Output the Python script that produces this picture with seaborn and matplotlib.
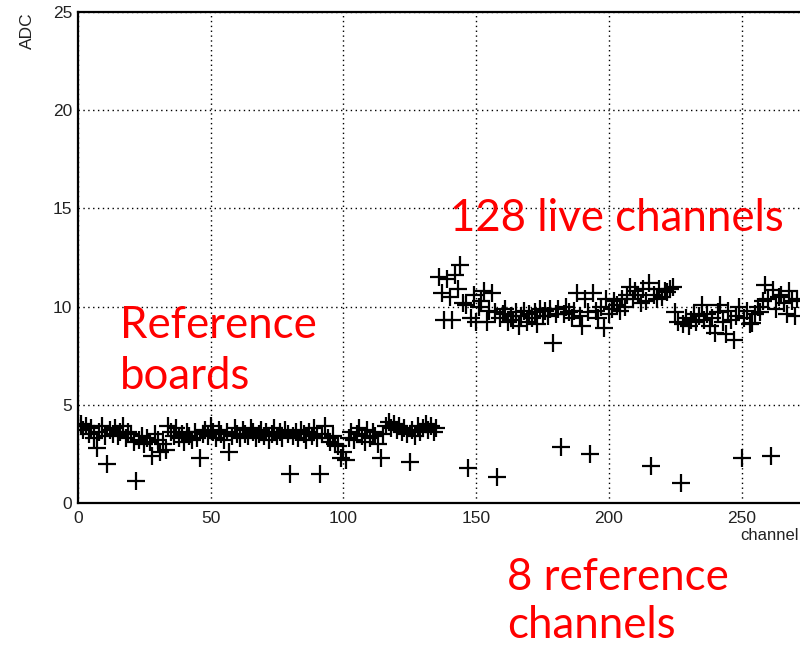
import numpy as np
import pandas as pd
import matplotlib
matplotlib.use("Agg")
import matplotlib.pyplot as plt
from matplotlib.ticker import MultipleLocator
import seaborn as sns

# Pedestal noise per channel: two boards of 136 channels each
board1_adc = [
    3.9, 4.0, 3.7, 3.9, 3.5, 3.8, 3.3, 2.8, 3.6, 3.9,
    3.4, 2.0, 3.7, 3.5, 3.8, 3.4, 3.6, 3.9, 3.3, 3.6,
    3.5, 3.1, 1.1, 3.2, 3.4, 3.0, 3.3, 3.1, 2.4, 3.5,
    3.2, 2.6, 3.0, 2.7, 3.9, 3.6, 3.4, 3.8, 3.3, 3.5,
    3.1, 3.6, 3.4, 3.2, 3.6, 3.3, 2.3, 3.5, 3.7, 3.4,
    3.9, 3.6, 3.3, 3.7, 3.5, 3.2, 3.6, 2.6, 3.4, 3.8,
    3.5, 3.3, 3.7, 3.5, 3.4, 3.8, 3.6, 3.3, 3.5, 3.7,
    3.4, 3.6, 3.2, 3.5, 3.8, 3.4, 3.6, 3.3, 3.7, 3.5,
    1.5, 3.4, 3.6, 3.3, 3.7, 3.5, 3.2, 3.6, 3.4, 3.8,
    3.3, 1.5, 3.5, 3.9, 3.3, 3.1, 3.4, 3.0, 2.9, 2.3,
    2.6, 2.2, 3.3, 3.6, 3.2, 3.5, 3.8, 3.4, 3.1, 3.7,
    3.3, 3.6, 3.4, 3.0, 2.3, 3.5, 3.9, 4.1, 3.8, 4.0,
    3.7, 3.9, 3.6, 3.8, 3.5, 2.1, 3.7, 3.4, 3.9, 3.6,
    3.8, 4.0, 3.7, 3.9, 3.6, 3.8,
]
board2_adc = [
    11.5, 10.7, 9.3, 11.4, 10.5, 9.3, 11.6, 10.9, 12.1, 10.2,
    10.1, 1.8, 9.4, 10.6, 9.2, 10.0, 10.3, 10.8, 9.2, 9.8,
    10.7, 9.7, 1.3, 9.4, 9.6, 9.9, 9.2, 9.5, 9.3, 9.7,
    9.0, 9.5, 9.8, 9.2, 9.6, 9.4, 9.7, 9.1, 9.9, 9.5,
    9.8, 9.5, 9.9, 8.15, 9.6, 9.9, 2.85, 9.6, 10.0, 9.7,
    9.4, 9.8, 10.7, 9.5, 9.0, 10.4, 9.7, 2.5, 10.7, 9.8,
    9.4, 10.0, 8.9, 10.4, 9.6, 9.9, 10.3, 10.1, 9.8, 10.4,
    10.0, 10.6, 11.0, 10.4, 10.8, 10.6, 10.2, 10.9, 10.3, 11.2,
    1.9, 10.6, 10.4, 10.9, 10.5, 10.8, 10.75, 10.9, 11.0, 9.7,
    9.2, 1.0, 9.1, 9.4, 9.0, 9.3, 9.6, 9.2, 9.5, 10.1,
    9.3, 9.6, 9.0, 9.4, 8.65, 9.7, 10.1, 9.2, 8.6, 9.8,
    9.3, 8.3, 9.5, 10.0, 2.3, 9.4, 9.8, 9.1, 9.15, 9.6,
    10.0, 9.7, 10.3, 11.1, 10.4, 2.4, 10.85, 9.9, 10.5, 10.6,
    10.2, 9.6, 10.8, 10.3, 9.5, 10.4,
]
adc = board1_adc + board2_adc
channel = list(range(len(adc)))

x_ticks = [0, 50, 100, 150, 200, 250]
y_ticks = [0, 5, 10, 15, 20, 25]

df = pd.DataFrame({"channel": channel, "ADC": adc})

sns.set_theme(style="white")
plt.rcParams["font.family"] = ["Liberation Sans", "DejaVu Sans"]

W, H = 800, 647
fig = plt.figure(figsize=(W / 100, H / 100), dpi=100)
ax = fig.add_axes([78 / W, 144 / H, 722 / W, 491 / H])

sns.scatterplot(data=df, x="channel", y="ADC", marker="+", s=160,
                color="black", linewidth=1.6, ax=ax, zorder=3)

ax.set_xlim(0, 272)
ax.set_ylim(0, 25)
ax.set_xticks(x_ticks)
ax.set_yticks(y_ticks)
ax.xaxis.set_minor_locator(MultipleLocator(10))
ax.yaxis.set_minor_locator(MultipleLocator(1))
ax.tick_params(axis="both", which="both", direction="in", colors="black",
               labelsize=12.5, width=1.4)
ax.tick_params(axis="x", which="major", length=11, pad=6)
ax.tick_params(axis="x", which="minor", length=5)
ax.tick_params(axis="y", which="major", length=14.5, pad=4)
ax.tick_params(axis="y", which="minor", length=7)
for lbl in ax.get_xticklabels() + ax.get_yticklabels():
    lbl.set_color("#222222")

ax.grid(True, which="major", linestyle=(0, (1, 2.5)), color="black",
        linewidth=1.0)
ax.set_axisbelow(True)
for side in ["left", "bottom", "top"]:
    ax.spines[side].set_color("black")
    ax.spines[side].set_linewidth(1.6)
ax.spines["right"].set_visible(False)

ax.set_xlabel("")
ax.set_ylabel("")
fig.text(27 / W, 1 - 12 / H, "ADC", rotation=90, ha="center", va="top",
         fontsize=12.5, color="#222222")
fig.text(799 / W, 1 - 540 / H, "channel", ha="right", va="baseline",
         fontsize=12, color="#222222")

red = "#ff0000"
note_kw = dict(fontsize=31.5, color=red, family=["Lato", "DejaVu Sans"],
               va="baseline", ha="left")
fig.text(450 / W, 1 - 231 / H, "128 live channels", **note_kw)
fig.text(120 / W, 1 - 338 / H, "Reference", **note_kw)
fig.text(120 / W, 1 - 389 / H, "boards", **note_kw)
fig.text(507 / W, 1 - 590 / H, "8 reference", **note_kw)
fig.text(507 / W, 1 - 638 / H, "channels", **note_kw)

fig.savefig("out.png", dpi=100)
